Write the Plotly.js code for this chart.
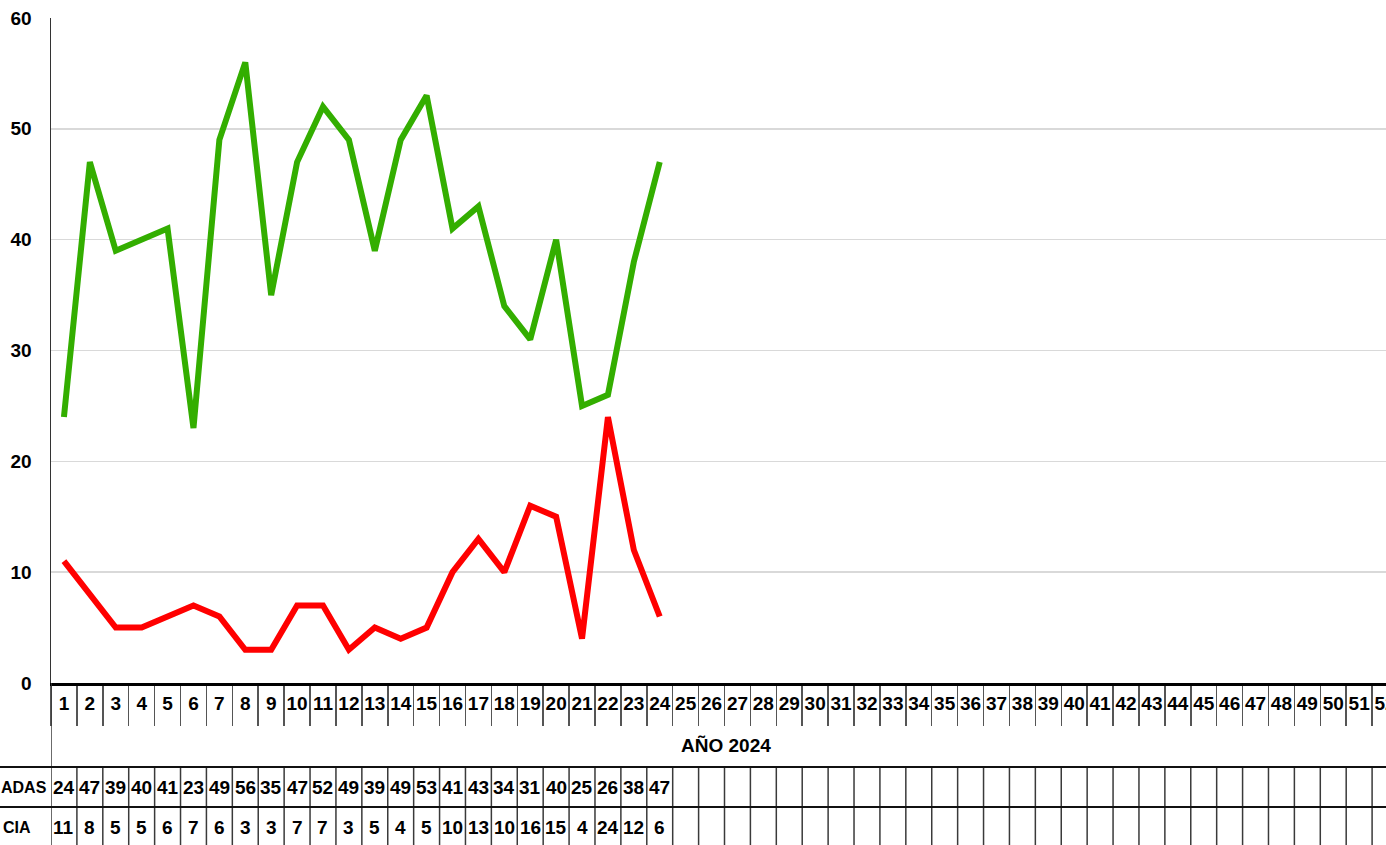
<!DOCTYPE html>
<html><head><meta charset="utf-8">
<script src="https://cdn.plot.ly/plotly-3.0.1.min.js"></script>
<style>html,body{margin:0;padding:0;overflow:hidden;background:#fff;width:1386px;height:845px}</style>
</head><body><div id="chart"></div>
<script>
const weeks = ['1','2','3','4','5','6','7','8','9','10','11','12','13','14','15','16','17','18','19','20','21','22','23','24','25','26','27','28','29','30','31','32','33','34','35','36','37','38','39','40','41','42','43','44','45','46','47','48','49','50','51','52'];
const rowLabels = ['ADAS', 'CIA'];
const seriesGreen = [24,47,39,40,41,23,49,56,35,47,52,49,39,49,53,41,43,34,31,40,25,26,38,47];
const seriesRed = [11,8,5,5,6,7,6,3,3,7,7,3,5,4,5,10,13,10,16,15,4,24,12,6];
const axisTitle = 'AÑO 2024';
const yTicks = [0,10,20,30,40,50,60];

const W = 1400, H = 845;
const M = {l:51, r:2, t:18, b:162};
const plotH = H - M.t - M.b;
const plotW = W - M.l - M.r;
const py = px => -(px - (H - M.b)) / plotH;
const pxX = px => (px - M.l) / plotW;

const FONT = '"Liberation Sans", Arial, sans-serif';
const GREEN = '#33AE00', RED = '#FF0000';

const traces = [
  {x: weeks.slice(0, seriesGreen.length), y: seriesGreen, type:'scatter', mode:'lines',
   line:{color:GREEN, width:6}, name:'ADAS', cliponaxis:false, hoverinfo:'x+y'},
  {x: weeks.slice(0, seriesRed.length), y: seriesRed, type:'scatter', mode:'lines',
   line:{color:RED, width:6}, name:'CIA', cliponaxis:false, hoverinfo:'x+y'}
];

const shapes = [];
const lineCol = '#3a3a3a';
for (let i = 0; i <= weeks.length; i++) {
  shapes.push({type:'line', xref:'x', yref:'paper', x0:i-0.5, x1:i-0.5,
    y0: i === 0 ? py(683) : py(767), y1: py(850), line:{color:lineCol, width:1.5}});
}
[767, 807].forEach(p => shapes.push({type:'line', xref:'paper', yref:'paper',
  x0: pxX(-5), x1: 1.01, y0: py(p), y1: py(p), line:{color:'#111', width:2}}));

const TF = {family:FONT, size:19, color:'#000', weight:700};
const LF = {family:FONT, size:16, color:'#000', weight:700};
const annotations = [];
const rowData = [seriesGreen, seriesRed];
const rowY = [787, 827];
rowData.forEach((arr, r) => {
  arr.forEach((v, i) => annotations.push({xref:'x', yref:'paper', x: i, y: py(rowY[r]),
    text: String(v), showarrow:false, xanchor:'center', yanchor:'middle', font:TF}));
});
annotations.push({xref:'paper', yref:'paper', x: pxX(49), y: py(rowY[0]), text: rowLabels[0],
  showarrow:false, xanchor:'right', yanchor:'middle', font:LF});
annotations.push({xref:'paper', yref:'paper', x: pxX(1), y: py(rowY[1]), text: rowLabels[1],
  showarrow:false, xanchor:'left', yanchor:'middle', font:LF});
annotations.push({xref:'paper', yref:'paper', x: pxX(726), y: py(745), text: axisTitle,
  showarrow:false, xanchor:'center', yanchor:'middle', font:TF});

const layout = {
  width: W, height: H, margin: M, showlegend:false,
  paper_bgcolor:'#fff', plot_bgcolor:'#fff',
  font:TF,
  xaxis:{type:'category', categoryarray: weeks, categoryorder:'array', range:[-0.5, weeks.length-0.5],
    showgrid:false, showline:true, linecolor:'#000', linewidth:2.5, zeroline:false,
    ticks:'outside', tickson:'boundaries', ticklen:40, tickwidth:1.5, tickcolor:'#555',
    ticklabelstandoff:2, tickangle:0, tickfont:TF, fixedrange:true},
  yaxis:{range:[0,60], tickvals:yTicks, showgrid:true, gridcolor:'#d9d9d9', gridwidth:1.5,
    showline:true, linecolor:'#333', linewidth:1.5, zeroline:false, ticks:'', ticklabelstandoff:14,
    tickfont:TF, fixedrange:true},
  shapes, annotations
};
Plotly.newPlot('chart', traces, layout, {displayModeBar:false, staticPlot:true});
</script></body></html>
